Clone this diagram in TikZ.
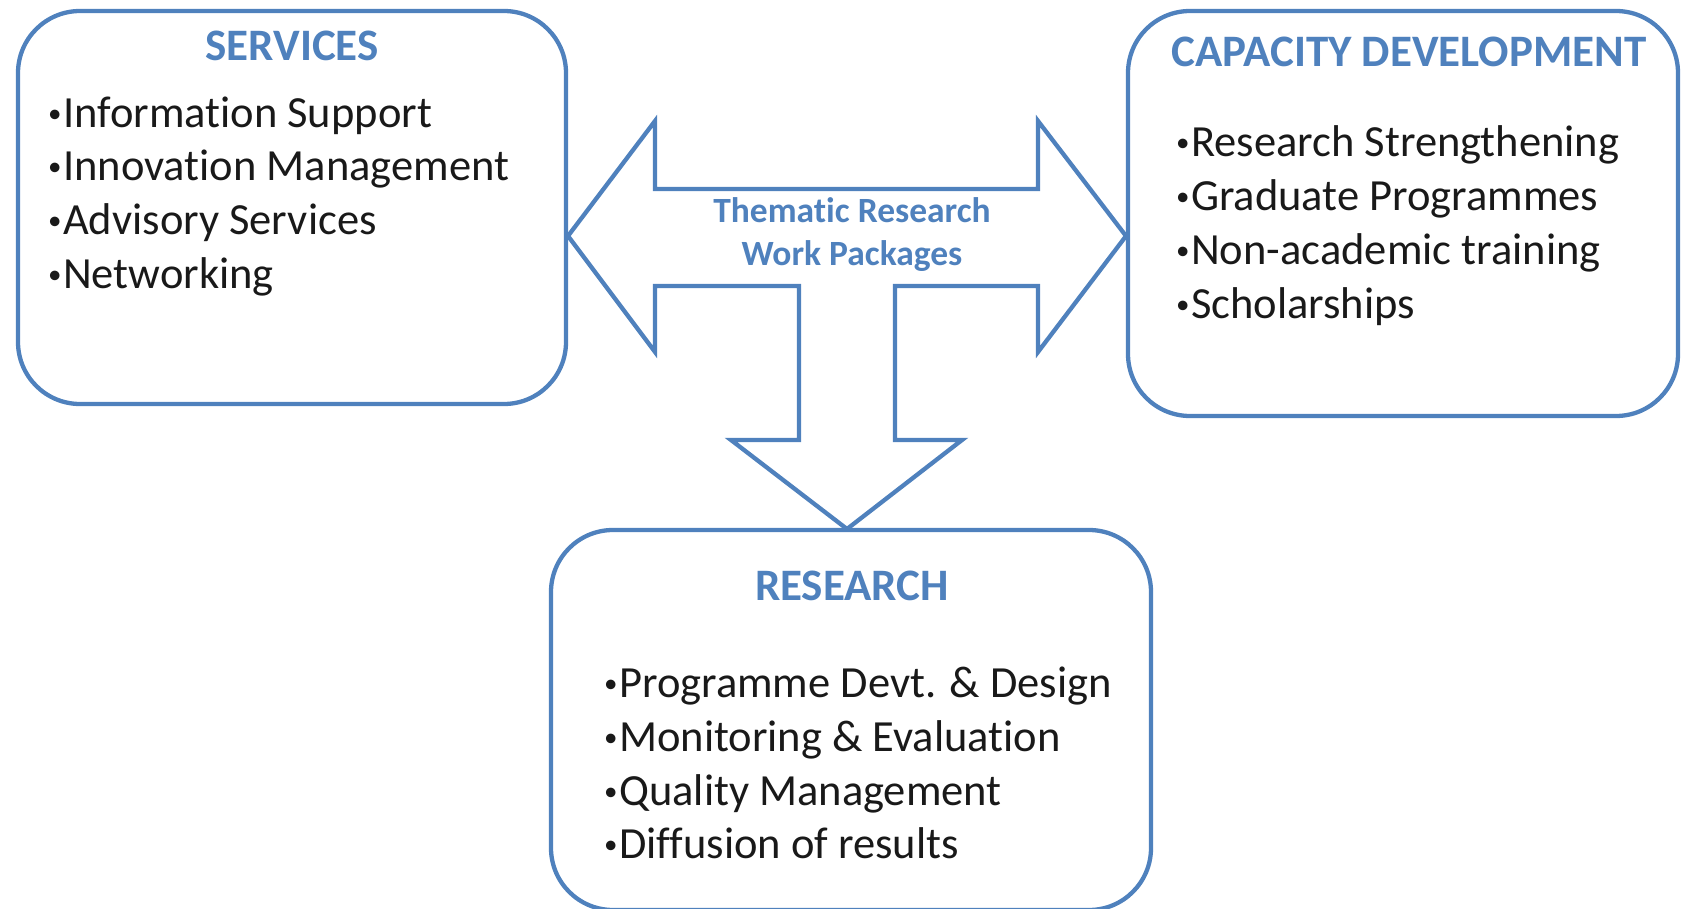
\documentclass[tikz,border=0pt]{standalone}
\usepackage{fontspec}
\setmainfont{Carlito}[Ligatures=NoCommon]
\definecolor{officeblue}{HTML}{4F81BD}
% small raised bullet followed directly by the item text
\newcommand\itembul{\makebox[15pt][l]{\raisebox{5pt}{\fontsize{27}{27}\selectfont •}}}
\begin{document}
\begin{tikzpicture}[x=1pt,y=-1pt,
  panel/.style={draw=officeblue, line width=4.3pt, rounded corners=62pt, inner sep=0pt},
  flowarrow/.style={draw=officeblue, line width=4.3pt, line join=miter},
  heading/.style={font=\bfseries\fontsize{45}{52}\selectfont, text=officeblue, inner sep=0pt, anchor=base},
  arrowtext/.style={font=\bfseries\fontsize{35.5}{40}\selectfont, text=officeblue, inner sep=0pt, anchor=base},
  item/.style={font=\fontsize{44.5}{52}\selectfont, text=black!90, inner sep=0pt, anchor=base west}]
\useasboundingbox (0,0) rectangle (1681,909);

% three panels
\node[panel, minimum width=548pt, minimum height=393pt] (services) at (292,207.5) {};
\node[panel, minimum width=550pt, minimum height=405pt] (capacity) at (1403,213.5) {};
\node[panel, minimum width=600pt, minimum height=380pt] (research) at (851,720) {};

% T-shaped double arrow linking the panels
\coordinate (tipL) at (568,236);
\coordinate (tipR) at (1126,236);
\coordinate (tipD) at (847,529);
\draw[flowarrow] (tipL) -- (655,121) -- (655,189) -- (1038,189) -- (1038,121)
  -- (tipR) -- (1038,352) -- (1038,286) -- (895,286) -- (895,440) -- (962,440)
  -- (tipD) -- (731,440) -- (799,440) -- (799,286) -- (655,286) -- (655,352) -- cycle;
\node[arrowtext] (wp1) at (852,223) {Thematic Research};
\node[arrowtext] (wp2) at (852,266) {Work Packages};

% headings
\node[heading] (h1) at (292,61) {SERVICES};
\node[heading] (h2) at (1409,67) {CAPACITY DEVELOPMENT};
\node[heading] (h3) at (852,600) {RESEARCH};

% services items
\node[item] (s1) at (48,127.5) {\itembul Information Support};
\node[item] (s2) at (48,181) {\itembul Innovation Management};
\node[item] (s3) at (48,235) {\itembul Advisory Services};
\node[item] (s4) at (48,288.5) {\itembul Networking};

% capacity development items
\node[item] (c1) at (1176,157) {\itembul Research Strengthening};
\node[item] (c2) at (1176,210.5) {\itembul Graduate Programmes};
\node[item] (c3) at (1176,264.5) {\itembul Non-academic training};
\node[item] (c4) at (1176,318) {\itembul Scholarships};

% research items
\node[item] (r1) at (604,697) {\itembul Programme Devt. \& Design};
\node[item] (r2) at (604,751) {\itembul Monitoring \& Evaluation};
\node[item] (r3) at (604,805) {\itembul Quality Management};
\node[item] (r4) at (604,858) {\itembul Diffusion of results};
\end{tikzpicture}
\end{document}
